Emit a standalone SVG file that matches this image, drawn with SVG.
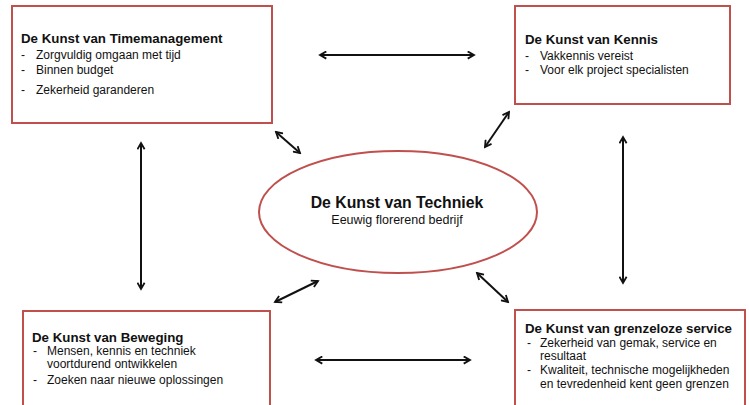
<svg xmlns="http://www.w3.org/2000/svg" width="749" height="405" viewBox="0 0 749 405">
<defs>
<marker id="ah" viewBox="0 0 10 10" refX="8" refY="5" markerWidth="4.5" markerHeight="4.5" orient="auto-start-reverse" markerUnits="strokeWidth">
<polyline points="1,1 8,5 1,9" fill="none" stroke="#111" stroke-width="2" stroke-linejoin="miter"/>
</marker>
<style>
.box{fill:#fff;stroke:#c0504d;stroke-width:2}
.t{font-family:"Liberation Sans",Arial,sans-serif;font-size:13.3px;font-weight:bold;fill:#111}
.b{font-family:"Liberation Sans",Arial,sans-serif;font-size:12px;fill:#111}
.c{stroke:#111;stroke-width:2;fill:none;marker-start:url(#ah);marker-end:url(#ah)}
</style>
</defs>
<rect width="749" height="405" fill="#fff"/>
<g id="connectors">
<line class="c" x1="320" y1="55" x2="474" y2="55"/>
<line class="c" x1="316" y1="360" x2="470" y2="360"/>
<line class="c" x1="141" y1="143" x2="141" y2="289"/>
<line class="c" x1="623" y1="137" x2="623" y2="283"/>
<line class="c" x1="276" y1="132" x2="300" y2="153"/>
<line class="c" x1="509" y1="112" x2="485" y2="147"/>
<line class="c" x1="275" y1="302" x2="318" y2="281"/>
<line class="c" x1="477" y1="273" x2="508" y2="302"/>
</g>
<g id="timemanagement">
<rect class="box" x="12" y="6" width="260" height="117"/>
<text class="t" x="21" y="43">De Kunst van Timemanagement</text>
<text class="b" x="21" y="59">-</text><text class="b" x="36" y="59">Zorgvuldig omgaan met tijd</text>
<text class="b" x="21" y="74">-</text><text class="b" x="36" y="74">Binnen budget</text>
<text class="b" x="21" y="94">-</text><text class="b" x="36" y="94">Zekerheid garanderen</text>
</g>
<g id="kennis">
<rect class="box" x="515" y="6" width="215" height="98"/>
<text class="t" x="525" y="44">De Kunst van Kennis</text>
<text class="b" x="525" y="60">-</text><text class="b" x="540" y="60">Vakkennis vereist</text>
<text class="b" x="525" y="74">-</text><text class="b" x="540" y="74">Voor elk project specialisten</text>
</g>
<g id="techniek">
<ellipse class="box" cx="398" cy="212" rx="139" ry="61"/>
<text x="397" y="208" text-anchor="middle" style="font-family:'Liberation Sans',Arial,sans-serif;font-size:15.8px;font-weight:bold;fill:#111">De Kunst van Techniek</text>
<text x="397" y="224" text-anchor="middle" style="font-family:'Liberation Sans',Arial,sans-serif;font-size:12.5px;fill:#111">Eeuwig florerend bedrijf</text>
</g>
<g id="beweging">
<rect class="box" x="23" y="311" width="247" height="100"/>
<text class="t" x="32" y="342">De Kunst van Beweging</text>
<text class="b" x="33" y="355">-</text><text class="b" x="47" y="355">Mensen, kennis en techniek</text>
<text class="b" x="47" y="368">voortdurend ontwikkelen</text>
<text class="b" x="33" y="384">-</text><text class="b" x="47" y="384">Zoeken naar nieuwe oplossingen</text>
</g>
<g id="service">
<rect class="box" x="515" y="310" width="230" height="100"/>
<text class="t" x="525" y="333">De Kunst van grenzeloze service</text>
<text class="b" x="527" y="347">-</text><text class="b" x="540" y="347">Zekerheid van gemak, service en</text>
<text class="b" x="540" y="360">resultaat</text>
<text class="b" x="527" y="374">-</text><text class="b" x="540" y="374">Kwaliteit, technische mogelijkheden</text>
<text class="b" x="540" y="388">en tevredenheid kent geen grenzen</text>
</g>
</svg>
